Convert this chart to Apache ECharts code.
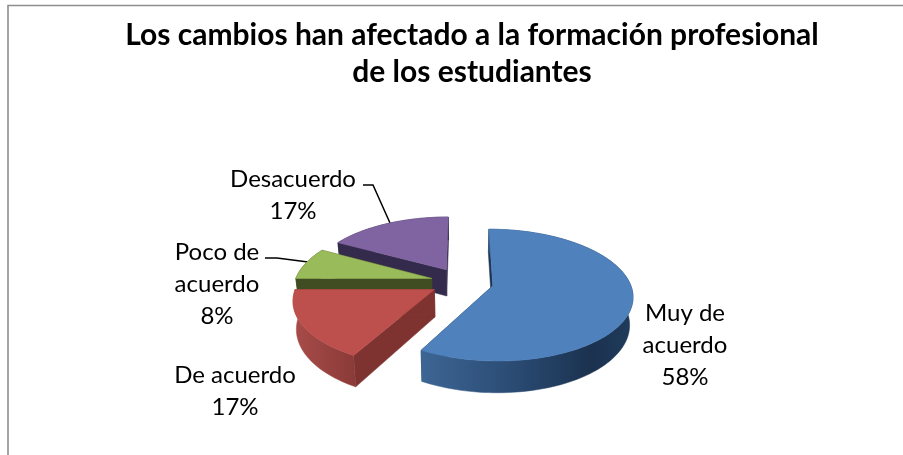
<!DOCTYPE html>
<html>
<head>
<meta charset="utf-8">
<style>
  html, body { margin: 0; padding: 0; background: #fff; }
  #chart { width: 903px; height: 455px; }
</style>
<script src="https://cdn.jsdelivr.net/npm/echarts@6/dist/echarts.min.js"></script>
</head>
<body>
<div id="chart"></div>
<script>
const categories = ['Muy de acuerdo', 'De acuerdo', 'Poco de acuerdo', 'Desacuerdo']
const values = [58, 17, 8, 17]
const labelLines = [
  ['Muy de', 'acuerdo'],
  ['De acuerdo'],
  ['Poco de', 'acuerdo'],
  ['Desacuerdo']
]
const topColors = ['#4f81bd', '#bd4f4c', '#9abb59', '#8064a2']
const wallColors = ['#1d3553', '#7f3331', '#404d22', '#342a4b']
const rimColors = [
  [[0, '#3d6695'], [0.45, '#2a4a72'], [0.8, '#1b324f'], [1, '#203b5c']],
  [[0, '#a84c49'], [1, '#8a3a38']],
  [[0, '#404d22'], [1, '#404d22']],
  [[0, '#342a4b'], [1, '#342a4b']]
]
const titleText = 'Los cambios han afectado a la formación profesional\nde los estudiantes'
const font = 'Lato, "Noto Sans", sans-serif'

// tilted pie: unit-circle world coords pushed through a simple perspective
const pie = { cx: 462, cy: 282, rx: 137, ry: 63.5, k: 0.142, explode: 0.23, depth: 27, shrink: 0.98 }

const project = (X, Y) => {
  const s = 1 / (1 + pie.k * Y)
  return [pie.cx + pie.rx * X * s, pie.cy - pie.ry * Y * s, s]
}
const lower = (X, Y) => {
  const p = project(X, Y)
  return [pie.cx + (p[0] - pie.cx) * pie.shrink, p[1] + pie.depth * p[2]]
}

const total = values.reduce((a, b) => a + b, 0)

const renderSlice = (params, api) => {
  const i = params.dataIndex
  const before = values.slice(0, i).reduce((a, b) => a + b, 0)
  const a0 = before / total * Math.PI * 2
  const a1 = (before + api.value(0)) / total * Math.PI * 2
  const mid = (a0 + a1) / 2
  const ox = pie.explode * Math.sin(mid)
  const oy = pie.explode * Math.cos(mid)

  const arcTop = []
  const arcLow = []
  const steps = Math.ceil((a1 - a0) / 0.03)
  for (let n = 0; n <= steps; n++) {
    const a = a0 + (a1 - a0) * n / steps
    const X = ox + Math.sin(a)
    const Y = oy + Math.cos(a)
    arcTop.push(project(X, Y).slice(0, 2))
    arcLow.push(lower(X, Y))
  }
  const apexTop = project(ox, oy).slice(0, 2)
  const apexLow = lower(ox, oy)
  const base = (3 - i) * 10

  const poly = (points, fill, z2) => ({
    type: 'polygon',
    z2,
    shape: { points },
    style: { fill, stroke: fill, lineWidth: 0.5 }
  })

  return {
    type: 'group',
    children: [
      poly([arcTop[0], arcLow[0], apexLow, apexTop], wallColors[i], base),
      poly([arcTop[steps], arcLow[steps], apexLow, apexTop], wallColors[i], base),
      poly(arcTop.concat(arcLow.slice().reverse()), {
        type: 'linear', x: 0, y: 0, x2: 1, y2: 0,
        colorStops: rimColors[i].map(s => ({ offset: s[0], color: s[1] }))
      }, base + 1),
      poly([apexTop].concat(arcTop), topColors[i], base + 2)
    ]
  }
}

const labelText = i => labelLines[i].concat(values[i] + '%').join('\n')
const labelStyle = { font: '24px ' + font, fill: '#000', align: 'center', verticalAlign: 'middle', lineHeight: 32 }
const labelPos = [[685, 345], [235, 391], [217, 284], [293, 195]]

const chart = echarts.init(document.getElementById('chart'))
chart.setOption({
  animation: false,
  backgroundColor: '#fff',
  title: {
    text: titleText,
    left: 467,
    top: 12,
    textAlign: 'center',
    textStyle: { fontFamily: font, fontWeight: 'bold', fontSize: 30, lineHeight: 37, color: '#000' }
  },
  graphic: [
    { type: 'polyline', shape: { points: [[8, 455], [8, 5.5], [903, 5.5]] }, style: { stroke: '#8e8e8e', lineWidth: 1.6, fill: 'none' } },
    { type: 'polyline', shape: { points: [[363, 185], [373, 185], [390, 223]] }, style: { stroke: '#000', lineWidth: 1.5, fill: 'none' } },
    { type: 'polyline', shape: { points: [[265, 258], [277, 258], [308, 262]] }, style: { stroke: '#000', lineWidth: 1.5, fill: 'none' } }
  ].concat(categories.map((name, i) => ({
    type: 'text',
    x: labelPos[i][0],
    y: labelPos[i][1],
    style: Object.assign({ text: labelText(i) }, labelStyle)
  }))),
  series: [{
    type: 'custom',
    coordinateSystem: 'none',
    renderItem: renderSlice,
    data: categories.map((name, i) => ({ name, value: [values[i]] }))
  }]
})
</script>
</body>
</html>
